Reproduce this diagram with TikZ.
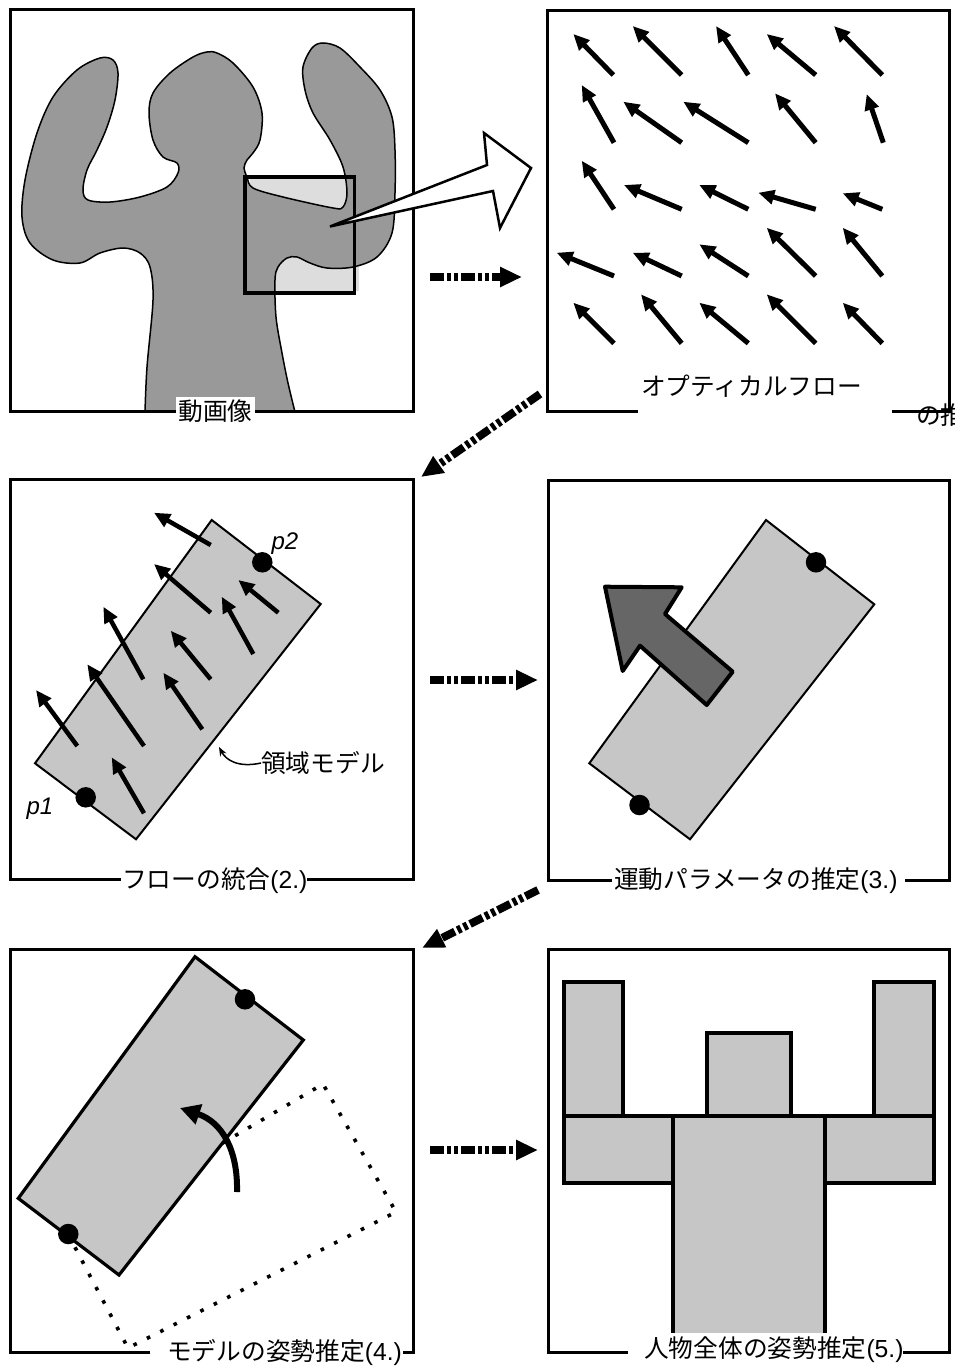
\documentclass[tikz,border=0pt]{standalone}
\usepackage{fontspec}
\setmainfont{Liberation Sans}
\newfontfamily\jp{Noto Sans CJK JP}
\newcommand\lat[1]{{\rmfamily #1}}
\usetikzlibrary{arrows.meta}

\definecolor{silgray}{HTML}{999999}
\definecolor{roigray}{HTML}{DDDDDD}
\definecolor{modelgray}{HTML}{C6C6C6}
\definecolor{motiongray}{HTML}{666666}

\begin{document}
\begin{tikzpicture}[x=1pt,y=-1pt,
  panelframe/.style={line width=3pt},
  flowvec/.style={line width=5pt,-{Triangle[length=16pt,width=14pt]}},
  stagearrow/.style={line width=8pt,dash pattern=on 14pt off 3pt on 4pt off 3pt on 4pt off 3pt,
    -{Triangle[length=22pt,width=19pt]}},
  lbl/.style={font=\jp\fontsize{24.7}{30}\selectfont,inner sep=0pt},
  ptlbl/.style={font=\itshape\fontsize{24}{28}\selectfont,inner sep=0pt},
  model/.style={fill=modelgray,draw=black,line width=2pt},
  joint/.style={circle,fill=black,inner sep=0pt,minimum size=20.5pt},
  part/.style={fill=modelgray,draw=black,line width=4pt}]
\useasboundingbox (0,0) rectangle (955,1368);

%% ---------- panel 1: input image ----------
\fill[roigray] (250,178) rectangle (359,291);
\draw[fill=silgray,line width=1.5pt] plot[smooth,tension=0.55] coordinates {
  (145,412) (147,367) (153,300) (150,267) (140,253) (123,248) (100,253) (80,263)
  (53,260) (30,243) (22,217) (25,180) (37,133) (53,97) (77,70) (100,58) (113,60)
  (118,73) (115,100) (107,127) (97,150) (87,170) (83,190) (88,200) (110,202)
  (140,197) (167,187) (178,173) (177,163) (163,157) (153,140) (149,113) (153,93)
  (170,73) (193,57) (207,52) (217,53) (233,63) (253,87) (262,113) (260,140)
  (253,153) (247,160) (244,168) (247,177) (253,188) (283,197) (333,208) (343,207)
  (347,193) (343,167) (330,140) (313,113) (305,90) (303,67) (312,48) (323,43)
  (340,48) (360,67) (380,90) (392,117) (395,150) (395,193) (392,233) (377,257)
  (353,267) (327,268) (310,263) (297,257) (287,258) (278,267) (275,280) (276,317)
  (282,353) (288,383) (295,412)} -- cycle;
\draw[line width=3.5pt] (245,177) rectangle (354.5,293);
\draw[panelframe] (10,9) rectangle (413,411);
\node[lbl,fill=white,inner xsep=2pt,inner ysep=3pt] (lbl1) at (215.5,411) {動画像};
\draw[fill=white,line width=2.5pt,line join=miter]
  (330,226.5) -- (487,165) -- (484,133) -- (531,168) -- (500,228) -- (493,191) -- cycle;

%% ---------- panel 2: optical flow ----------
\begin{scope}
  \clip (0,0) rectangle (955,1368);
  \node[lbl,anchor=west] (lbl1b) at (916,415) {の推};
\end{scope}
\draw[panelframe] (638,411.5) -- (547,411.5) -- (547,10) -- (949,10) -- (949,411.5) -- (892,411.5);
\foreach \tx/\ty/\hx/\hy in {
  613.3/75/573.3/34, 681.7/75/632.7/26, 748.3/75/716/26, 815.7/75/766.7/34, 882.3/75/834/26,
  614/142.7/581.7/85, 681.7/142.7/623.3/101.7, 748.3/142.7/683.3/101.7, 815.7/142.7/775/93.3, 883.3/142.7/866.7/94,
  614/209.3/581.7/160.7, 681.7/209.3/624/185, 748.3/209.3/699.3/185, 815.7/209.3/758.3/192.7, 882.3/209.3/842.7/193.3,
  614/276/556.7/252.7, 681.7/276/632.7/252.7, 748.3/276/699.3/244.3, 815.7/276/766.7/227.7, 882.3/276/842.7/227.7,
  614/343.3/573.3/302.7, 681.7/343.3/641/294.3, 748.3/343.3/699.3/302.7, 815.7/343.3/766.7/294.3, 882.3/343.3/842.7/302.7}
  \draw[flowvec] (\tx,\ty) -- (\hx,\hy);
\node[lbl,anchor=west] (lbl2) at (641,386) {オプティカルフロー};

%% ---------- panel 3: flow integration ----------
\draw[panelframe] (121,879) -- (10,879) -- (10,479) -- (413,479) -- (413,879) -- (307,879);
\draw[model] (211.7,520) -- (320.7,604) -- (136,839.3) -- (35,763.3) -- cycle;
\foreach \tx/\ty/\hx/\hy in {
  210.7/545/154/512.7, 210.7/612.7/154/564, 278.3/612.7/238.3/580,
  143.3/679.3/103.3/606.7, 210.7/679.3/170.7/630.7, 253.3/654/221.7/596.7,
  77.3/746/36/690, 144/746/87.3/664.3, 202.3/729.3/163.3/672.7, 144/813.3/111.7/757.3}
  \draw[flowvec,line width=4.5pt] (\tx,\ty) -- (\hx,\hy);
\node[joint] (p1a) at (85.7,797.3) {};
\node[joint] (p2a) at (262.3,562.3) {};
\node[ptlbl] (p1lbl) at (40,809) {p1};
\node[ptlbl] (p2lbl) at (285,544) {p2};
\node[lbl] (roi) at (323,763) {領域モデル};
\draw[line width=1.5pt,-{Stealth[length=9pt,width=7pt]}]
  (roi.west) .. controls (238,768) and (226,760) .. (219,747);
\node[lbl,anchor=west] (lbl3) at (122,881) {フローの統合\lat{(2.)}};

%% ---------- panel 4: motion parameters ----------
\draw[panelframe] (612,880) -- (548,880) -- (548,480) -- (949,480) -- (949,880) -- (905,880);
\draw[model] (766,520) -- (874.3,604.3) -- (690,839.3) -- (589.3,763.3) -- cycle;
\node[joint] (p1b) at (639.5,805) {};
\node[joint] (p2b) at (816,562.3) {};
\draw[fill=motiongray,line width=4pt,line join=round]
  (605,586.7) -- (681.7,587.3) -- (665,614) -- (732.7,671.7) -- (706.7,705)
  -- (640,645.7) -- (622.7,671) -- cycle;
\node[lbl,anchor=west] (lbl4) at (614,881) {運動パラメータの推定\lat{(3.)}};

%% ---------- panel 5: pose of one model ----------
\draw[panelframe] (150,1352) -- (10,1352) -- (10,949) -- (413,949) -- (413,1352) -- (403,1352);
\draw[line width=3.6pt,dash pattern=on 3.6pt off 11.4pt]
  (68,1234) -- (128,1348) -- (396,1212) -- (323,1084) -- cycle;
\draw[model,line width=3.2pt] (195,956.7) -- (303.3,1040) -- (119,1275) -- (18.3,1198.3) -- cycle;
\node[joint] (p1c) at (68.3,1234) {};
\node[joint] (p2c) at (245,999.3) {};
\draw[line width=6pt,-{Triangle[length=20pt,width=20pt]}]
  (237,1192) .. controls (238,1150) and (222,1122) .. (180,1108);
\node[lbl,anchor=west] (lbl5) at (167,1353) {モデルの姿勢推定\lat{(4.)}};

%% ---------- panel 6: whole-body pose ----------
\draw[panelframe] (628,1352) -- (548,1352) -- (548,949) -- (949,949) -- (949,1352) -- (903,1352);
\draw[part] (564,981.7) rectangle (622.7,1116);
\draw[part] (874.3,981.7) rectangle (934,1116);
\draw[part] (706.7,1032.7) rectangle (790.7,1116);
\draw[part] (564,1116) rectangle (673.3,1182.7);
\draw[part] (825,1116) rectangle (934,1182.7);
\fill[modelgray] (673.3,1116) rectangle (825,1332.7);
\draw[line width=4pt] (673.3,1332.7) -- (673.3,1116) -- (825,1116) -- (825,1332.7);
\node[lbl,anchor=west] (lbl6) at (644,1350) {人物全体の姿勢推定\lat{(5.)}};

%% ---------- stage connectors ----------
\coordinate (s12a) at (430,277);  \coordinate (s12b) at (522,277);
\coordinate (s23a) at (540,394);  \coordinate (s23b) at (421,477);
\coordinate (s34a) at (430,680);  \coordinate (s34b) at (538,680);
\coordinate (s45a) at (538,890);  \coordinate (s45b) at (422,948);
\coordinate (s56a) at (430,1150); \coordinate (s56b) at (538,1150);
\draw[stagearrow] (s12a) -- (s12b);
\draw[stagearrow] (s23a) -- (s23b);
\draw[stagearrow] (s34a) -- (s34b);
\draw[stagearrow] (s45a) -- (s45b);
\draw[stagearrow] (s56a) -- (s56b);
\end{tikzpicture}
\end{document}
